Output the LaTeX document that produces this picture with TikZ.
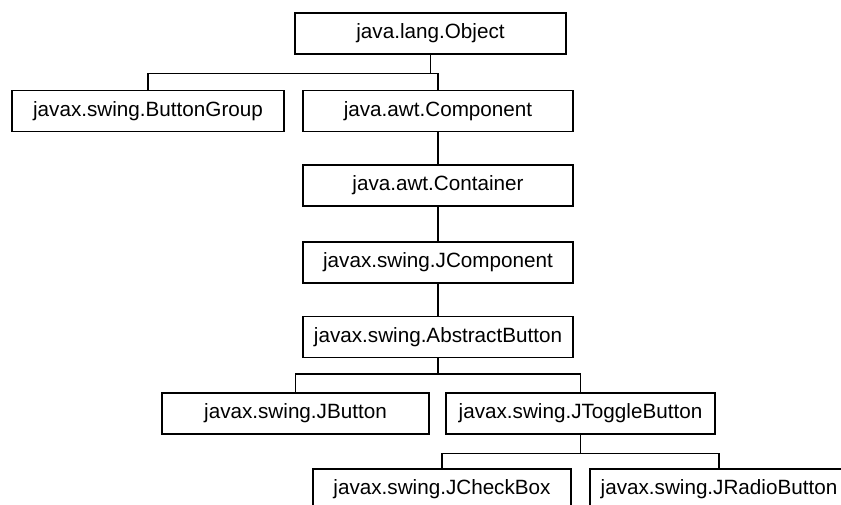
\documentclass[tikz,border=0pt]{standalone}
\usepackage{fontspec}
\setmainfont{Liberation Sans}
\usepackage{tikz}
\usetikzlibrary{positioning}
\tikzset{
  classbox/.style={draw=black, fill=white, rectangle, line width=0.9pt,
                   minimum height=30.75pt, inner sep=0pt,
                   font=\fontsize{15.5}{18}\selectfont, align=center},
  inherit/.style={draw=black, line width=1pt}
}

\begin{document}
\begin{tikzpicture}[x=0.75pt, y=-0.75pt]
  \useasboundingbox (0,0) rectangle (841,505);
  \clip (0,0) rectangle (841,505);

  \node[classbox, minimum width=203.25pt] (object)    at (430.5,33.5) {java.lang.Object};
  \node[classbox, minimum width=204pt]    (btngroup)  at (148,111)    {javax.swing.ButtonGroup};
  \node[classbox, minimum width=202.5pt]  (component) at (438,111)    {java.awt.Component};
  \node[classbox, minimum width=202.5pt]  (container) at (438,185.5)  {java.awt.Container};
  \node[classbox, minimum width=202.5pt]  (jcomp)     at (438,262.5)  {javax.swing.JComponent};
  \node[classbox, minimum width=202.5pt]  (absbtn)    at (438,337)    {javax.swing.AbstractButton};
  \node[classbox, minimum width=200.25pt] (jbutton)   at (295.5,413.5) {javax.swing.JButton};
  \node[classbox, minimum width=201.75pt] (jtoggle)   at (580.5,413.5) {javax.swing.JToggleButton};
  \node[classbox, minimum width=193.5pt]  (jcheck)    at (442,489.5)  {javax.swing.JCheckBox};
  \node[classbox, minimum width=193.5pt]  (jradio)    at (719,489.5)  {javax.swing.JRadioButton};

  % tree connectors
  \draw[inherit] (object.south) -- ++(0,19) coordinate (objbus);
  \draw[inherit] (objbus) -| (btngroup.north);
  \draw[inherit] (objbus) -| (component.north);
  \draw[inherit] (component) -- (container);
  \draw[inherit] (container) -- (jcomp);
  \draw[inherit] (jcomp) -- (absbtn);
  \draw[inherit] (absbtn.south) -- ++(0,16) coordinate (absbus);
  \draw[inherit] (absbus) -| (jbutton.north);
  \draw[inherit] (absbus) -| (jtoggle.north);
  \draw[inherit] (jtoggle.south) -- ++(0,19) coordinate (togbus);
  \draw[inherit] (togbus) -| (jcheck.north);
  \draw[inherit] (togbus) -| (jradio.north);
\end{tikzpicture}
\end{document}
